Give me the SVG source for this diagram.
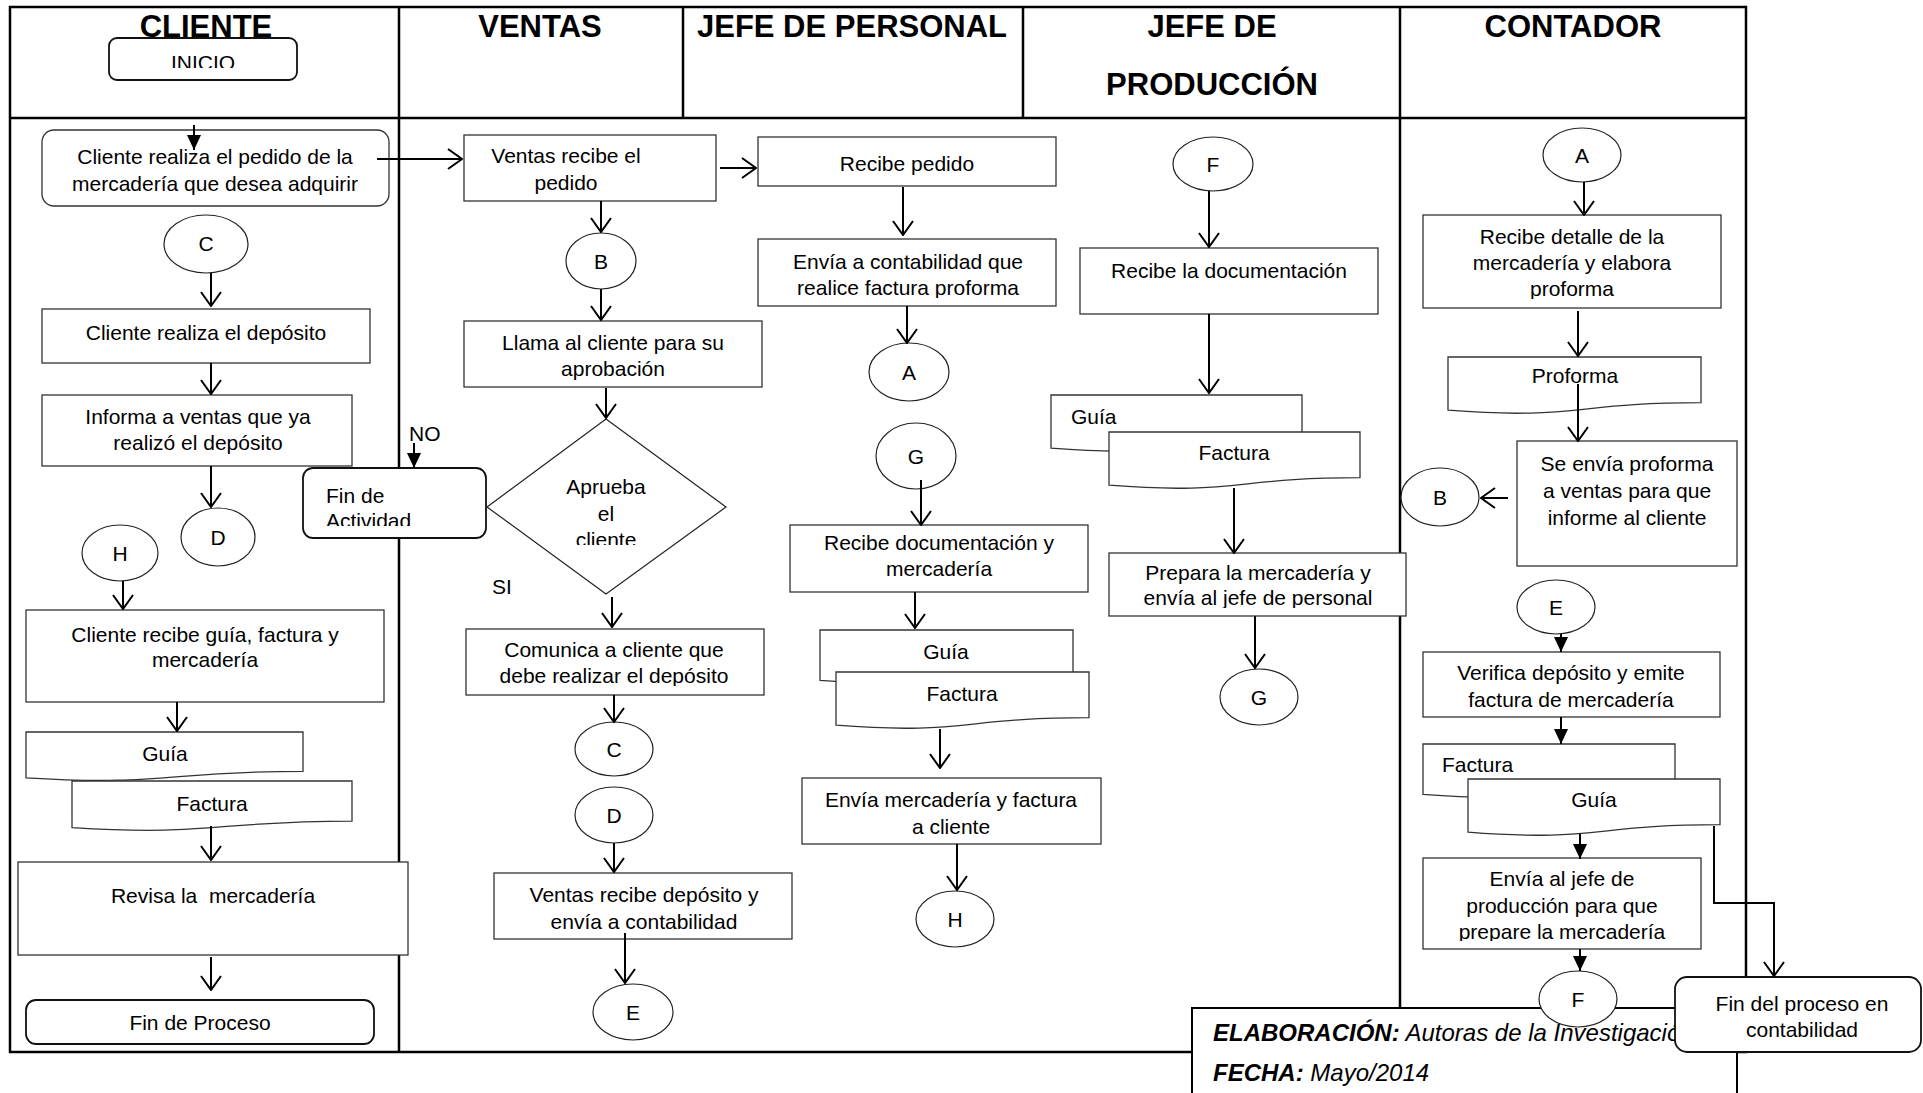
<svg xmlns="http://www.w3.org/2000/svg" width="1923" height="1093" viewBox="0 0 1923 1093">
<style>
.box{fill:#fff;stroke:#333;stroke-width:1.3}
.term{fill:#fff;stroke:#111;stroke-width:1.8}
.con{fill:#fff;stroke:#222;stroke-width:1.2}
.frame{fill:none;stroke:#000;stroke-width:2.5}
.t{font-family:"Liberation Sans",Arial,sans-serif;font-size:21px;fill:#000;text-anchor:middle}
.tl{text-anchor:start}
.h{font-weight:bold;font-size:31px}
.note{font-size:24px;font-style:italic}
.edge{fill:none;stroke:#000;stroke-width:2}
.open{marker-end:url(#open)}
.solid{marker-end:url(#solid)}
</style>
<defs>
<marker id="open" viewBox="0 0 16 22" refX="15" refY="11" markerWidth="16" markerHeight="22" orient="auto" markerUnits="userSpaceOnUse">
<path d="M1,1 L15,11 L1,21" fill="none" stroke="#000" stroke-width="2"/>
</marker>
<marker id="solid" viewBox="0 0 15 14" refX="15" refY="7" markerWidth="15" markerHeight="14" orient="auto" markerUnits="userSpaceOnUse">
<path d="M0,0 L15,7 L0,14 Z" fill="#000"/>
</marker>
<clipPath id="cInicio"><rect x="0" y="0" width="1923" height="68"/></clipPath>
<clipPath id="cPedido"><rect x="0" y="0" width="1923" height="196"/></clipPath>
<clipPath id="cAprob"><rect x="0" y="0" width="1923" height="380"/></clipPath>
<clipPath id="cCliente"><rect x="0" y="0" width="1923" height="545"/></clipPath>
<clipPath id="cActiv"><rect x="0" y="0" width="1923" height="526"/></clipPath>
<clipPath id="cFactProf"><rect x="0" y="0" width="1923" height="298"/></clipPath>
<clipPath id="cDepos"><rect x="0" y="0" width="1923" height="686"/></clipPath>
<clipPath id="cJefePers"><rect x="0" y="0" width="1923" height="608"/></clipPath>
<clipPath id="cProforma"><rect x="0" y="0" width="1923" height="299"/></clipPath>
<clipPath id="cPrepare"><rect x="0" y="0" width="1923" height="941"/></clipPath>
</defs>
<rect width="1923" height="1093" fill="#fff"/>

<!-- swimlane frame -->
<g id="lanes">
<rect class="frame" x="10" y="7" width="1736" height="1045"/>
<line class="frame" x1="10" y1="118" x2="1746" y2="118"/>
<line class="frame" x1="399" y1="7" x2="399" y2="1052"/>
<line class="frame" x1="683" y1="7" x2="683" y2="118"/>
<line class="frame" x1="1023" y1="7" x2="1023" y2="118"/>
<line class="frame" x1="1400" y1="7" x2="1400" y2="1052"/>
<text class="t h" x="206" y="37">CLIENTE</text>
<text class="t h" x="540" y="37">VENTAS</text>
<text class="t h" x="852" y="37">JEFE DE PERSONAL</text>
<text class="t h" x="1212" y="37">JEFE DE</text>
<text class="t h" x="1212" y="95">PRODUCCIÓN</text>
<text class="t h" x="1573" y="37">CONTADOR</text>
</g>

<!-- CLIENTE -->
<g id="inicio"><rect class="term" x="109" y="38" width="188" height="42" rx="8"/><text class="t" x="203" y="70" font-size="20" clip-path="url(#cInicio)">INICIO</text></g>
<g id="cliente-pedido"><rect class="box" x="42" y="130" width="347" height="76" rx="12"/><text class="t" x="215" y="164"><tspan x="215">Cliente realiza el pedido de la</tspan><tspan x="215" y="191">mercadería que desea adquirir</tspan></text></g>
<g id="c-cliente"><ellipse class="con" cx="206" cy="244" rx="42" ry="29"/><text class="t" x="206" y="251">C</text></g>
<g id="cliente-deposito"><rect class="box" x="42" y="309" width="328" height="54"/><text class="t" x="206" y="340">Cliente realiza el depósito</text></g>
<g id="cliente-informa"><rect class="box" x="42" y="395" width="310" height="71"/><text class="t" x="198" y="424"><tspan x="198">Informa a ventas que ya</tspan><tspan x="198" y="450">realizó el depósito</tspan></text></g>
<g id="d-cliente"><ellipse class="con" cx="218" cy="537" rx="37" ry="29"/><text class="t" x="218" y="545">D</text></g>
<g id="h-cliente"><ellipse class="con" cx="120" cy="553" rx="38" ry="28"/><text class="t" x="120" y="561">H</text></g>
<g id="cliente-recibe"><rect class="box" x="26" y="610" width="358" height="92"/><text class="t" x="205" y="642"><tspan x="205">Cliente recibe guía, factura y</tspan><tspan x="205" y="667">mercadería</tspan></text></g>
<g id="cliente-guia"><path class="box" d="M26,732 H303 V771.3 C164.5,771.3 164.5,786.2 26,777.8 Z"/><text class="t" x="165" y="761">Guía</text></g>
<g id="cliente-factura"><path class="box" d="M72,781 H352 V821.1 C212,821.1 212,836.4 72,827.7 Z"/><text class="t" x="212" y="811">Factura</text></g>
<g id="cliente-revisa"><rect class="box" x="18" y="862" width="390" height="93"/><text class="t" x="213" y="903" xml:space="preserve">Revisa la  mercadería</text></g>
<g id="fin-proceso"><rect class="term" x="26" y="1000" width="348" height="44" rx="10"/><text class="t" x="200" y="1030">Fin de Proceso</text></g>

<!-- VENTAS -->
<g id="ventas-recibe"><rect class="box" x="464" y="135" width="252" height="66"/><text class="t" x="566" y="163" clip-path="url(#cPedido)"><tspan x="566">Ventas recibe el</tspan><tspan x="566" y="190">pedido</tspan></text></g>
<g id="b-ventas"><ellipse class="con" cx="601" cy="261" rx="35" ry="28"/><text class="t" x="601" y="269">B</text></g>
<g id="ventas-llama"><rect class="box" x="464" y="321" width="298" height="66"/><text class="t" x="613" y="350" clip-path="url(#cAprob)"><tspan x="613">Llama al cliente para su</tspan><tspan x="613" y="376">aprobación</tspan></text></g>
<g id="decision"><polygon class="con" points="606,419 726,507 606,594 487,507"/><text class="t" x="606" y="494" clip-path="url(#cCliente)"><tspan x="606">Aprueba</tspan><tspan x="606" y="521">el</tspan><tspan x="606" y="547">cliente</tspan></text></g>
<g id="fin-actividad"><rect class="term" x="303" y="468" width="183" height="70" rx="10"/><text class="t tl" x="326" y="503" clip-path="url(#cActiv)"><tspan x="326">Fin de</tspan><tspan x="326" y="528">Actividad</tspan></text></g>
<g id="label-no"><text class="t tl" x="409" y="441" font-size="20">NO</text></g>
<g id="label-si"><text class="t tl" x="492" y="594" font-size="20">SI</text></g>
<g id="ventas-comunica"><rect class="box" x="466" y="629" width="298" height="66"/><text class="t" x="614" y="657" clip-path="url(#cDepos)"><tspan x="614">Comunica a cliente que</tspan><tspan x="614" y="683">debe realizar el depósito</tspan></text></g>
<g id="c-ventas"><ellipse class="con" cx="614" cy="749" rx="39" ry="27"/><text class="t" x="614" y="757">C</text></g>
<g id="d-ventas"><ellipse class="con" cx="614" cy="815" rx="39" ry="28"/><text class="t" x="614" y="823">D</text></g>
<g id="ventas-deposito"><rect class="box" x="494" y="873" width="298" height="66"/><text class="t" x="644" y="902"><tspan x="644">Ventas recibe depósito y</tspan><tspan x="644" y="929">envía a contabilidad</tspan></text></g>
<g id="e-ventas"><ellipse class="con" cx="633" cy="1012" rx="40" ry="28"/><text class="t" x="633" y="1020">E</text></g>

<!-- JEFE DE PERSONAL -->
<g id="jp-recibe"><rect class="box" x="758" y="137" width="298" height="49"/><text class="t" x="907" y="171">Recibe pedido</text></g>
<g id="jp-envia-contab"><rect class="box" x="758" y="239" width="298" height="67"/><text class="t" x="908" y="269" clip-path="url(#cFactProf)"><tspan x="908">Envía a contabilidad que</tspan><tspan x="908" y="295">realice factura proforma</tspan></text></g>
<g id="a-jp"><ellipse class="con" cx="909" cy="372" rx="40" ry="29"/><text class="t" x="909" y="380">A</text></g>
<g id="g-jp"><ellipse class="con" cx="916" cy="456" rx="40" ry="33"/><text class="t" x="916" y="464">G</text></g>
<g id="jp-recibe-doc"><rect class="box" x="790" y="525" width="298" height="67"/><text class="t" x="939" y="550"><tspan x="939">Recibe documentación y</tspan><tspan x="939" y="576">mercadería</tspan></text></g>
<g id="jp-guia"><path class="box" d="M820,630 H1073 V673.3 C946.5,673.3 946.5,689.8 820,680.4 Z"/><text class="t" x="946" y="659">Guía</text></g>
<g id="jp-factura"><path class="box" d="M836,672 H1089 V717.7 C962.5,717.7 962.5,735.1 836,725.2 Z"/><text class="t" x="962" y="701">Factura</text></g>
<g id="jp-envia-merc"><rect class="box" x="802" y="778" width="299" height="66"/><text class="t" x="951" y="807"><tspan x="951">Envía mercadería y factura</tspan><tspan x="951" y="834">a cliente</tspan></text></g>
<g id="h-jp"><ellipse class="con" cx="955" cy="919" rx="39" ry="28"/><text class="t" x="955" y="927">H</text></g>

<!-- JEFE DE PRODUCCION -->
<g id="f-prod"><ellipse class="con" cx="1213" cy="164" rx="40" ry="27"/><text class="t" x="1213" y="172">F</text></g>
<g id="prod-recibe"><rect class="box" x="1080" y="248" width="298" height="66"/><text class="t" x="1229" y="278">Recibe la documentación</text></g>
<g id="prod-guia"><path class="box" d="M1051,395 H1302 V440.7 C1176.5,440.7 1176.5,458.1 1051,448.2 Z"/><text class="t tl" x="1071" y="424">Guía</text></g>
<g id="prod-factura"><path class="box" d="M1109,432 H1360 V477.7 C1234.5,477.7 1234.5,495.1 1109,485.2 Z"/><text class="t" x="1234" y="460">Factura</text></g>
<g id="prod-prepara"><rect class="box" x="1109" y="553" width="297" height="63"/><text class="t" x="1258" y="580" clip-path="url(#cJefePers)"><tspan x="1258">Prepara la mercadería y</tspan><tspan x="1258" y="605">envía al jefe de personal</tspan></text></g>
<g id="g-prod"><ellipse class="con" cx="1259" cy="697" rx="39" ry="28"/><text class="t" x="1259" y="705">G</text></g>

<!-- CONTADOR -->
<g id="a-cont"><ellipse class="con" cx="1582" cy="155" rx="39" ry="27"/><text class="t" x="1582" y="163">A</text></g>
<g id="cont-detalle"><rect class="box" x="1423" y="215" width="298" height="93"/><text class="t" x="1572" y="244" clip-path="url(#cProforma)"><tspan x="1572">Recibe detalle de la</tspan><tspan x="1572" y="270">mercadería y elabora</tspan><tspan x="1572" y="296">proforma</tspan></text></g>
<g id="cont-proforma"><path class="box" d="M1448,357 H1701 V402.7 C1574.5,402.7 1574.5,420.1 1448,410.2 Z"/><text class="t" x="1575" y="383">Proforma</text></g>
<g id="cont-envia-prof"><rect class="box" x="1517" y="441" width="220" height="125"/><text class="t" x="1627" y="471"><tspan x="1627">Se envía proforma</tspan><tspan x="1627" y="498">a ventas para que</tspan><tspan x="1627" y="525">informe al cliente</tspan></text></g>
<g id="b-cont"><ellipse class="con" cx="1440" cy="497" rx="39" ry="29"/><text class="t" x="1440" y="505">B</text></g>
<g id="e-cont"><ellipse class="con" cx="1556" cy="607" rx="39" ry="27"/><text class="t" x="1556" y="615">E</text></g>
<g id="cont-verifica"><rect class="box" x="1423" y="652" width="297" height="65"/><text class="t" x="1571" y="680"><tspan x="1571">Verifica depósito y emite</tspan><tspan x="1571" y="707">factura de mercadería</tspan></text></g>
<g id="cont-factura"><path class="box" d="M1423,744 H1675 V787.3 C1549,787.3 1549,803.8 1423,794.4 Z"/><text class="t tl" x="1442" y="772">Factura</text></g>
<g id="cont-guia"><path class="box" d="M1468,779 H1720 V824.7 C1594,824.7 1594,842.1 1468,832.2 Z"/><text class="t" x="1594" y="807">Guía</text></g>
<g id="cont-envia-jefe"><rect class="box" x="1423" y="858" width="278" height="91"/><text class="t" x="1562" y="886" clip-path="url(#cPrepare)"><tspan x="1562">Envía al jefe de</tspan><tspan x="1562" y="913">producción para que</tspan><tspan x="1562" y="939">prepare la mercadería</tspan></text></g>

<!-- source note -->
<g id="nota">
<rect x="1192" y="1008" width="545" height="100" fill="#fff" stroke="#000" stroke-width="2"/>
<text class="t tl note" x="1213" y="1041"><tspan font-weight="bold">ELABORACIÓN:</tspan> Autoras de la Investigación</text>
<text class="t tl note" x="1213" y="1081"><tspan font-weight="bold">FECHA:</tspan> Mayo/2014</text>
</g>
<g id="f-cont"><ellipse class="con" cx="1578" cy="999" rx="39" ry="28"/><text class="t" x="1578" y="1007">F</text></g>
<g id="fin-contab"><rect class="term" x="1675" y="977" width="246" height="75" rx="12"/><text class="t" x="1802" y="1011"><tspan x="1802">Fin del proceso en</tspan><tspan x="1802" y="1037">contabilidad</tspan></text></g>

<!-- connectors -->
<g id="connectors">
<line class="edge solid" x1="194" y1="125" x2="194" y2="150"/>
<line class="edge open" x1="377" y1="159" x2="462" y2="159"/>
<line class="edge open" x1="211" y1="273" x2="211" y2="306"/>
<line class="edge open" x1="211" y1="363" x2="211" y2="394"/>
<line class="edge open" x1="211" y1="466" x2="211" y2="507"/>
<line class="edge open" x1="123" y1="581" x2="123" y2="609"/>
<line class="edge open" x1="177" y1="702" x2="177" y2="731"/>
<line class="edge open" x1="211" y1="826" x2="211" y2="860"/>
<line class="edge open" x1="211" y1="957" x2="211" y2="990"/>
<line class="edge open" x1="720" y1="168" x2="756" y2="168"/>
<line class="edge open" x1="601" y1="201" x2="601" y2="232"/>
<line class="edge open" x1="601" y1="289" x2="601" y2="320"/>
<line class="edge open" x1="606" y1="388" x2="606" y2="418"/>
<line class="edge solid" x1="414" y1="443" x2="414" y2="468"/>
<line class="edge open" x1="612" y1="597" x2="612" y2="627"/>
<line class="edge open" x1="614" y1="695" x2="614" y2="722"/>
<line class="edge open" x1="614" y1="843" x2="614" y2="872"/>
<line class="edge open" x1="625" y1="933" x2="625" y2="983"/>
<line class="edge open" x1="903" y1="187" x2="903" y2="235"/>
<line class="edge open" x1="907" y1="306" x2="907" y2="343"/>
<line class="edge open" x1="921" y1="480" x2="921" y2="525"/>
<line class="edge open" x1="915" y1="592" x2="915" y2="628"/>
<line class="edge open" x1="940" y1="729" x2="940" y2="768"/>
<line class="edge open" x1="957" y1="844" x2="957" y2="890"/>
<line class="edge open" x1="1209" y1="191" x2="1209" y2="247"/>
<line class="edge open" x1="1209" y1="314" x2="1209" y2="393"/>
<line class="edge open" x1="1234" y1="488" x2="1234" y2="553"/>
<line class="edge open" x1="1255" y1="616" x2="1255" y2="668"/>
<line class="edge open" x1="1584" y1="182" x2="1584" y2="215"/>
<line class="edge open" x1="1578" y1="311" x2="1578" y2="356"/>
<line class="edge open" x1="1578" y1="384" x2="1578" y2="441"/>
<line class="edge open" x1="1508" y1="498" x2="1481" y2="498"/>
<line class="edge solid" x1="1561" y1="634" x2="1561" y2="652"/>
<line class="edge solid" x1="1561" y1="717" x2="1561" y2="744"/>
<line class="edge solid" x1="1580" y1="834" x2="1580" y2="859"/>
<line class="edge solid" x1="1580" y1="949" x2="1580" y2="971"/>
<path class="edge open" stroke-width="3" d="M1714,826 V903 H1774 V976"/>
</g>
</svg>
